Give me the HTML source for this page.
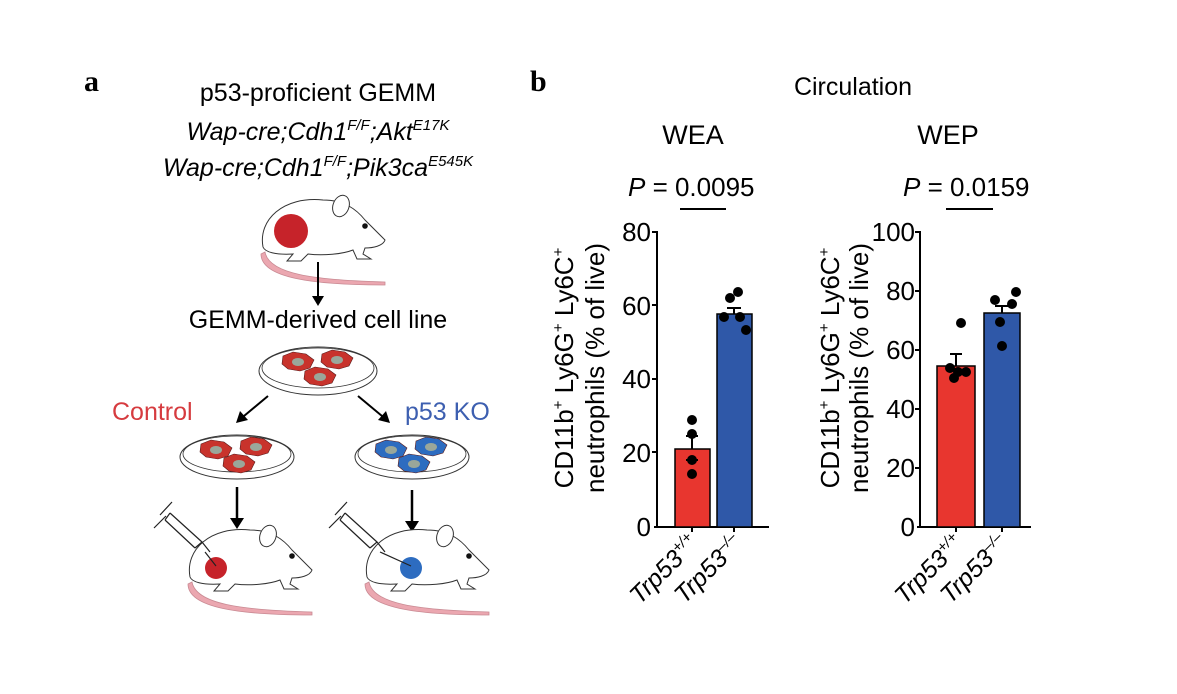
<!DOCTYPE html>
<html><head><meta charset="utf-8"><style>
body{margin:0;background:#fff;}
svg{display:block;font-family:"Liberation Sans",Arial,sans-serif;}
</style></head><body>
<svg width="1177" height="694" viewBox="0 0 1177 694" xmlns="http://www.w3.org/2000/svg">
<defs>
<g id="mouse">
 <path d="M12,60 C16,82 60,88 132,90 L132,93 C60,93 8,86 8,62 Z" fill="#eba7b0" stroke="#c98a93" stroke-width="0.8"/>
 <path d="M10,55 C5,28 30,4 70,8 C92,8 104,18 112,28 L132,48 C130,54 120,56 112,56 L110,62 L118,67 L104,67 L100,58 C90,62 70,64 55,62 L48,69 L34,69 L40,62 C22,63 12,60 10,55 Z" fill="#fff" stroke="#333" stroke-width="1"/>
 <ellipse cx="88" cy="14" rx="8" ry="11" fill="#fff" stroke="#333" stroke-width="1" transform="rotate(20 88 14)"/>
 <circle cx="112" cy="34" r="2.8" fill="#111"/>
</g>
<g id="cell">
 <path d="M-15,-6 L-5,-10 L8,-8 L16,-2 L12,6 L2,9 L-10,7 L-16,2 Z" stroke="#5a1a1a" stroke-width="0.6"/>
 <ellipse cx="0" cy="0" rx="6" ry="4" fill="#9aa79a"/>
</g>
</defs>

<!-- Panel a -->
<text x="84" y="91" font-size="30" font-weight="bold" font-family="Liberation Serif, serif">a</text>
<text x="318" y="101" font-size="25" text-anchor="middle">p53-proficient GEMM</text>
<text x="318" y="140" font-size="25" text-anchor="middle" font-style="italic">Wap-cre;Cdh1<tspan font-size="15" dy="-10">F/F</tspan><tspan dy="10">;Akt</tspan><tspan font-size="15" dy="-10">E17K</tspan></text>
<text x="318" y="176" font-size="25" text-anchor="middle" font-style="italic">Wap-cre;Cdh1<tspan font-size="15" dy="-10">F/F</tspan><tspan dy="10">;Pik3ca</tspan><tspan font-size="15" dy="-10">E545K</tspan></text>

<use href="#mouse" transform="translate(253,192)"/>
<circle cx="291" cy="231" r="17" fill="#c6232a"/>
<line x1="318" y1="262" x2="318" y2="298" stroke="#000" stroke-width="2"/>
<path d="M312,296 L318,306 L324,296 Z" fill="#000"/>
<text x="318" y="328" font-size="25" text-anchor="middle">GEMM-derived cell line</text>

<ellipse cx="318" cy="371" rx="59" ry="24" fill="#fff" stroke="#333" stroke-width="1"/>
<ellipse cx="318" cy="368" rx="56" ry="20" fill="none" stroke="#333" stroke-width="0.8"/>
<use href="#cell" fill="#c8332c" transform="translate(298,362)"/>
<use href="#cell" fill="#c8332c" transform="translate(337,360)"/>
<use href="#cell" fill="#c8332c" transform="translate(320,377)"/>

<text x="112" y="420" font-size="25" fill="#d63b3f">Control</text>
<text x="405" y="420" font-size="25" fill="#3d5fb0">p53 KO</text>
<line x1="268" y1="396" x2="244" y2="416" stroke="#000" stroke-width="2"/>
<path d="M236,423 L240,411 L248,420 Z" fill="#000"/>
<line x1="358" y1="396" x2="382" y2="416" stroke="#000" stroke-width="2"/>
<path d="M390,423 L378,420 L386,411 Z" fill="#000"/>

<ellipse cx="237" cy="457" rx="57" ry="22" fill="#fff" stroke="#333" stroke-width="1"/>
<ellipse cx="237" cy="454" rx="54" ry="18" fill="none" stroke="#333" stroke-width="0.8"/>
<use href="#cell" fill="#c8332c" transform="translate(216,450)"/>
<use href="#cell" fill="#c8332c" transform="translate(256,447)"/>
<use href="#cell" fill="#c8332c" transform="translate(239,464)"/>

<ellipse cx="412" cy="457" rx="57" ry="22" fill="#fff" stroke="#333" stroke-width="1"/>
<ellipse cx="412" cy="454" rx="54" ry="18" fill="none" stroke="#333" stroke-width="0.8"/>
<use href="#cell" fill="#2d6cc0" transform="translate(391,450)"/>
<use href="#cell" fill="#2d6cc0" transform="translate(431,447)"/>
<use href="#cell" fill="#2d6cc0" transform="translate(414,464)"/>

<line x1="237" y1="487" x2="237" y2="520" stroke="#000" stroke-width="2.5"/>
<path d="M230,518 L237,529 L244,518 Z" fill="#000"/>
<line x1="412" y1="490" x2="412" y2="523" stroke="#000" stroke-width="2.5"/>
<path d="M405,521 L412,532 L419,521 Z" fill="#000"/>

<use href="#mouse" transform="translate(180,522)"/>
<use href="#mouse" transform="translate(357,522)"/>
<circle cx="216" cy="568" r="11" fill="#c6232a"/>
<circle cx="411" cy="568" r="11" fill="#2d6cc0"/>
<g stroke="#222" stroke-width="1.2" fill="none">
 <path d="M165,520 L195,548 M170,513 L202,542 M165,520 L170,513 M195,548 L202,542 L210,552 M160,515 L172,502 M166,516 L154,528 M205,552 L216,566"/>
 <path d="M340,520 L370,548 M345,513 L377,542 M340,520 L345,513 M370,548 L377,542 L385,552 M335,515 L347,502 M341,516 L329,528 M380,552 L411,566"/>
</g>

<!-- Panel b -->
<text x="530" y="91" font-size="30" font-weight="bold" font-family="Liberation Serif, serif">b</text>
<text x="853" y="95" font-size="25" text-anchor="middle">Circulation</text>
<text x="693" y="144" font-size="27" text-anchor="middle">WEA</text>
<text x="948" y="144" font-size="27" text-anchor="middle">WEP</text>
<text x="628" y="196" font-size="26"><tspan font-style="italic">P</tspan>  = 0.0095</text>
<line x1="680" y1="209" x2="726" y2="209" stroke="#000" stroke-width="2"/>
<text x="903" y="196" font-size="26"><tspan font-style="italic">P</tspan>  = 0.0159</text>
<line x1="946" y1="209" x2="993" y2="209" stroke="#000" stroke-width="2"/>

<g font-size="26" text-anchor="end">
 <text x="651" y="241">80</text><text x="651" y="315">60</text><text x="651" y="388">40</text><text x="651" y="462">20</text><text x="651" y="536">0</text>
</g>
<g stroke="#000" stroke-width="2">
 <line x1="657" y1="231" x2="657" y2="527"/>
 <line x1="652" y1="232" x2="657" y2="232"/><line x1="652" y1="305" x2="657" y2="305"/><line x1="652" y1="379" x2="657" y2="379"/><line x1="652" y1="452" x2="657" y2="452"/>
 <line x1="654" y1="527" x2="769" y2="527"/>
 <line x1="692" y1="527" x2="692" y2="532"/><line x1="734" y1="527" x2="734" y2="532"/>
</g>
<rect x="675" y="449" width="35" height="78" fill="#e8362f" stroke="#000" stroke-width="1.5"/>
<rect x="717" y="314" width="35" height="213" fill="#2f58a8" stroke="#000" stroke-width="1.5"/>
<g stroke="#000" stroke-width="2">
 <line x1="692" y1="449" x2="692" y2="436"/><line x1="686" y1="436" x2="698" y2="436"/><line x1="686" y1="460" x2="698" y2="460"/>
 <line x1="734" y1="314" x2="734" y2="308"/><line x1="727" y1="308" x2="741" y2="308"/>
</g>
<g fill="#000">
 <circle cx="692" cy="420" r="5"/><circle cx="692" cy="434" r="5"/><circle cx="692" cy="460" r="5"/><circle cx="692" cy="474" r="5"/>
 <circle cx="738" cy="292" r="5"/><circle cx="730" cy="298" r="5"/><circle cx="724" cy="317" r="5"/><circle cx="740" cy="317" r="5"/><circle cx="746" cy="330" r="5"/>
</g>
<g font-size="26" text-anchor="middle">
 <text transform="translate(573,368) rotate(-90)">CD11b<tspan font-size="15" dy="-10">+</tspan><tspan dy="10"> Ly6G</tspan><tspan font-size="15" dy="-10">+</tspan><tspan dy="10"> Ly6C</tspan><tspan font-size="15" dy="-10">+</tspan></text>
 <text transform="translate(604,368) rotate(-90)">neutrophils (% of live)</text>
 <text transform="translate(839,368) rotate(-90)">CD11b<tspan font-size="15" dy="-10">+</tspan><tspan dy="10"> Ly6G</tspan><tspan font-size="15" dy="-10">+</tspan><tspan dy="10"> Ly6C</tspan><tspan font-size="15" dy="-10">+</tspan></text>
 <text transform="translate(868,368) rotate(-90)">neutrophils (% of live)</text>
</g>
<g font-size="25" font-style="italic" text-anchor="end">
 <text transform="translate(700,545) rotate(-45)">Trp53<tspan font-size="15" dy="-10">+/+</tspan></text>
 <text transform="translate(744,545) rotate(-45)">Trp53<tspan font-size="15" dy="-10">–/–</tspan></text>
 <text transform="translate(965,545) rotate(-45)">Trp53<tspan font-size="15" dy="-10">+/+</tspan></text>
 <text transform="translate(1010,545) rotate(-45)">Trp53<tspan font-size="15" dy="-10">–/–</tspan></text>
</g>

<g font-size="26" text-anchor="end">
 <text x="915" y="241">100</text><text x="915" y="300">80</text><text x="915" y="359">60</text><text x="915" y="418">40</text><text x="915" y="477">20</text><text x="915" y="536">0</text>
</g>
<g stroke="#000" stroke-width="2">
 <line x1="920" y1="231" x2="920" y2="527"/>
 <line x1="915" y1="232" x2="920" y2="232"/><line x1="915" y1="291" x2="920" y2="291"/><line x1="915" y1="350" x2="920" y2="350"/><line x1="915" y1="409" x2="920" y2="409"/><line x1="915" y1="468" x2="920" y2="468"/>
 <line x1="917" y1="527" x2="1031" y2="527"/>
 <line x1="956" y1="527" x2="956" y2="532"/><line x1="1002" y1="527" x2="1002" y2="532"/>
</g>
<rect x="937" y="366" width="38" height="161" fill="#e8362f" stroke="#000" stroke-width="1.5"/>
<rect x="984" y="313" width="36" height="214" fill="#2f58a8" stroke="#000" stroke-width="1.5"/>
<g stroke="#000" stroke-width="2">
 <line x1="956" y1="366" x2="956" y2="354"/><line x1="950" y1="354" x2="962" y2="354"/>
 <line x1="1002" y1="313" x2="1002" y2="306"/><line x1="995" y1="306" x2="1009" y2="306"/>
</g>
<g fill="#000">
 <circle cx="961" cy="323" r="5"/><circle cx="950" cy="368" r="5"/><circle cx="958" cy="372" r="5"/><circle cx="966" cy="372" r="5"/><circle cx="954" cy="378" r="5"/>
 <circle cx="1016" cy="292" r="5"/><circle cx="995" cy="300" r="5"/><circle cx="1012" cy="304" r="5"/><circle cx="1000" cy="322" r="5"/><circle cx="1002" cy="346" r="5"/>
</g>
</svg>
</body></html>
